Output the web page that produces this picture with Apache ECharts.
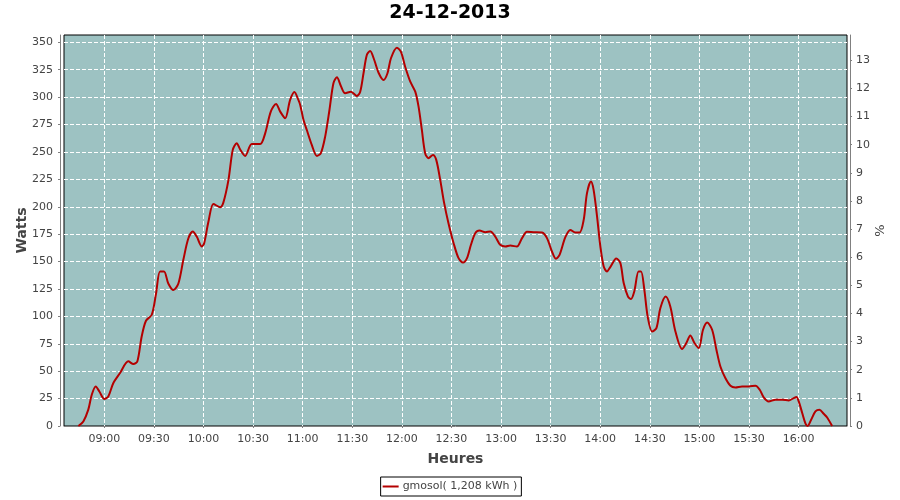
<!DOCTYPE html>
<html>
<head>
<meta charset="utf-8">
<script src="https://cdn.jsdelivr.net/npm/echarts@6/dist/echarts.min.js"></script>
<style>html,body{margin:0;padding:0;background:#fff}#c{width:900px;height:500px}</style>
</head>
<body>
<div id="c"></div>
<script>
// time in minutes since midnight
const minutes = [524.3,527.3,530.3,532.4,534.8,537.0,540.0,542.4,545.4,549.5,554.5,557.6,560.0,562.6,565.2,568.7,571.3,573.7,576.1,578.7,581.8,584.8,587.8,590.8,593.5,595.9,599.0,600.4,603.0,606.0,610.0,612.0,615.1,617.7,620.1,622.1,625.2,629.2,634.3,637.3,640.7,643.9,646.4,649.4,652.4,655.0,657.4,658.5,660.5,662.5,665.5,668.6,671.0,673.6,676.2,678.6,680.7,683.1,685.7,689.2,692.8,694.8,696.8,698.8,700.8,703.3,705.9,708.9,711.3,713.4,717.0,719.4,722.0,725.1,728.1,730.1,732.1,734.1,736.1,738.8,740.8,743.2,745.6,748.2,751.3,754.3,757.0,759.4,761.8,764.4,767.0,770.5,773.5,776.5,779.5,782.6,785.6,789.6,792.7,795.7,799.7,804.8,807.8,810.8,813.2,815.4,818.9,821.9,824.9,827.5,830.0,832.0,834.4,836.0,838.1,840.1,842.1,844.1,846.1,849.7,852.2,854.2,856.8,858.6,860.6,863.2,864.7,866.7,868.7,871.4,874.0,876.4,879.6,882.4,885.5,889.5,892.1,894.5,897.0,899.6,902.2,904.7,907.7,910.3,912.7,915.7,918.8,921.8,925.8,929.8,933.9,936.5,938.9,941.9,946.0,950.1,954.0,957.1,958.7,960.1,962.2,964.2,965.5,967.6,970.2,972.6,975.2,977.3,980.3];
const watts = [0,4.2,14.9,28.5,36,31.5,24.6,27,39,48.3,59,56.5,59,81.7,96,101.5,121,141,141,130,124,130,151.6,171,177.4,172.8,163.7,166.8,186.5,202.6,199.6,203.8,224.5,251.9,258,252.5,246.4,257.3,257.3,267,286.8,293.8,286.8,280.8,297.5,304.7,297.5,292.9,279.2,270,256.4,246.4,248.9,264,288.3,312.7,318.1,310.2,303.6,305,301.1,305,321.8,338.5,342.1,333.9,322.3,315.7,321.8,335.5,345.1,341.5,327.8,314.1,305,291.3,270.1,248.9,244.3,247.3,242.8,224.5,203.3,185,166.8,153.1,149.1,153.1,165.3,175.9,178.3,176.8,177.4,172.8,165.3,163.7,164.6,163.7,171.4,177.1,176.8,176.5,171.4,159.2,152.5,156.2,172.3,178.9,176.5,176.5,188,212.4,223,215.4,191.1,163.7,145.5,141,145,152.8,148.6,130.4,118.1,115.8,122.7,141,141,124.2,99.9,86.2,89.3,107.6,118.1,109,86.2,70.2,75.7,82.6,75.7,71.1,87.8,94.4,87.8,69.6,54.3,43.8,36.7,35.2,36.1,36.1,36.7,33.1,26.1,22.4,24,24,23.3,25.5,26.4,22.4,11.9,2.1,0,5.7,13.3,14.9,11.2,7.8,0];
const timeTicks = ['09:00','09:30','10:00','10:30','11:00','11:30','12:00','12:30','13:00','13:30','14:00','14:30','15:00','15:30','16:00'];
const wattTicks = [0,25,50,75,100,125,150,175,200,225,250,275,300,325,350];
const pctTicks = [0,1,2,3,4,5,6,7,8,9,10,11,12,13];
const titleText = '24-12-2013';
const seriesName = 'gmosol( 1,208 kWh )';

const toMin = s => { const p = s.split(':'); return +p[0]*60 + +p[1]; };
const pad = n => (n<10?'0':'') + n;
const fmt = v => pad(Math.floor(Math.round(v)/60)) + ':' + pad(Math.round(v)%60);
const timeTickVals = timeTicks.map(toMin);

const FONT = 'DejaVu Sans';
const labelStyle = {color:'#444', fontFamily:FONT, fontSize:11};
const nameStyle = {color:'#444', fontFamily:FONT, fontSize:14, fontWeight:'bold'};
const grid = {type:'dashed', color:'#fff', width:1, dashOffset:0};

const chart = echarts.init(document.getElementById('c'), null, {renderer:'canvas'});
chart.setOption({
  animation:false,
  backgroundColor:'#fff',
  title:{text:titleText, left:'center', top:4, padding:0,
    textStyle:{fontFamily:FONT, fontSize:19, fontWeight:'bold', color:'#000'}},
  legend:{data:[seriesName], left:'center', top:477, orient:'horizontal',
    borderColor:'#000', borderWidth:1, padding:[4,4,4,2], itemWidth:16, itemHeight:2, itemGap:4,
    icon:'rect', textStyle:{fontFamily:FONT, fontSize:11, color:'#444', padding:[0,0,0,-1]}},
  grid:{left:64, right:53, top:35, bottom:74, show:true, backgroundColor:'#9dc2c2', borderColor:'#000', borderWidth:1, containLabel:false},
  xAxis:{type:'value', min:515.6, max:989.3, offset:4,
    name:'Heures', nameLocation:'middle', nameGap:22, nameMoveOverlap:false, nameTextStyle:nameStyle,
    axisLine:{show:true, lineStyle:{color:'#808080'}},
    axisTick:{show:true, length:2, customValues:timeTickVals, lineStyle:{color:'#808080'}},
    axisLabel:{customValues:timeTickVals, formatter:v=>fmt(v), margin:4, ...labelStyle},
    splitLine:{show:true, lineStyle:{...grid}}},
  yAxis:[
    {type:'value', min:0, max:356.7, position:'left', offset:4,
      name:'Watts', nameLocation:'middle', nameGap:31, nameMoveOverlap:false, nameTextStyle:nameStyle,
      axisLine:{show:true, lineStyle:{color:'#808080'}},
      axisTick:{show:true, length:2, customValues:wattTicks, lineStyle:{color:'#808080'}},
      axisLabel:{customValues:wattTicks, margin:7, ...labelStyle},
      splitLine:{show:true, lineStyle:{...grid}}},
    {type:'value', min:0, max:13.9, position:'right', offset:3,
      name:'%', nameLocation:'middle', nameGap:24, nameRotate:90, nameMoveOverlap:false,
      nameTextStyle:{color:'#444', fontFamily:FONT, fontSize:13},
      axisLine:{show:true, lineStyle:{color:'#808080'}},
      axisTick:{show:true, length:2, customValues:pctTicks, lineStyle:{color:'#808080'}},
      axisLabel:{customValues:pctTicks, margin:6, ...labelStyle},
      splitLine:{show:false}}
  ],
  series:[{name:seriesName, type:'line', yAxisIndex:0, showSymbol:false, smooth:0.3,
    data:minutes.map((m,i)=>[m, watts[i]]),
    itemStyle:{color:'#b40000'},
    lineStyle:{color:'#b40000', width:2}}]
});
</script>
</body>
</html>
